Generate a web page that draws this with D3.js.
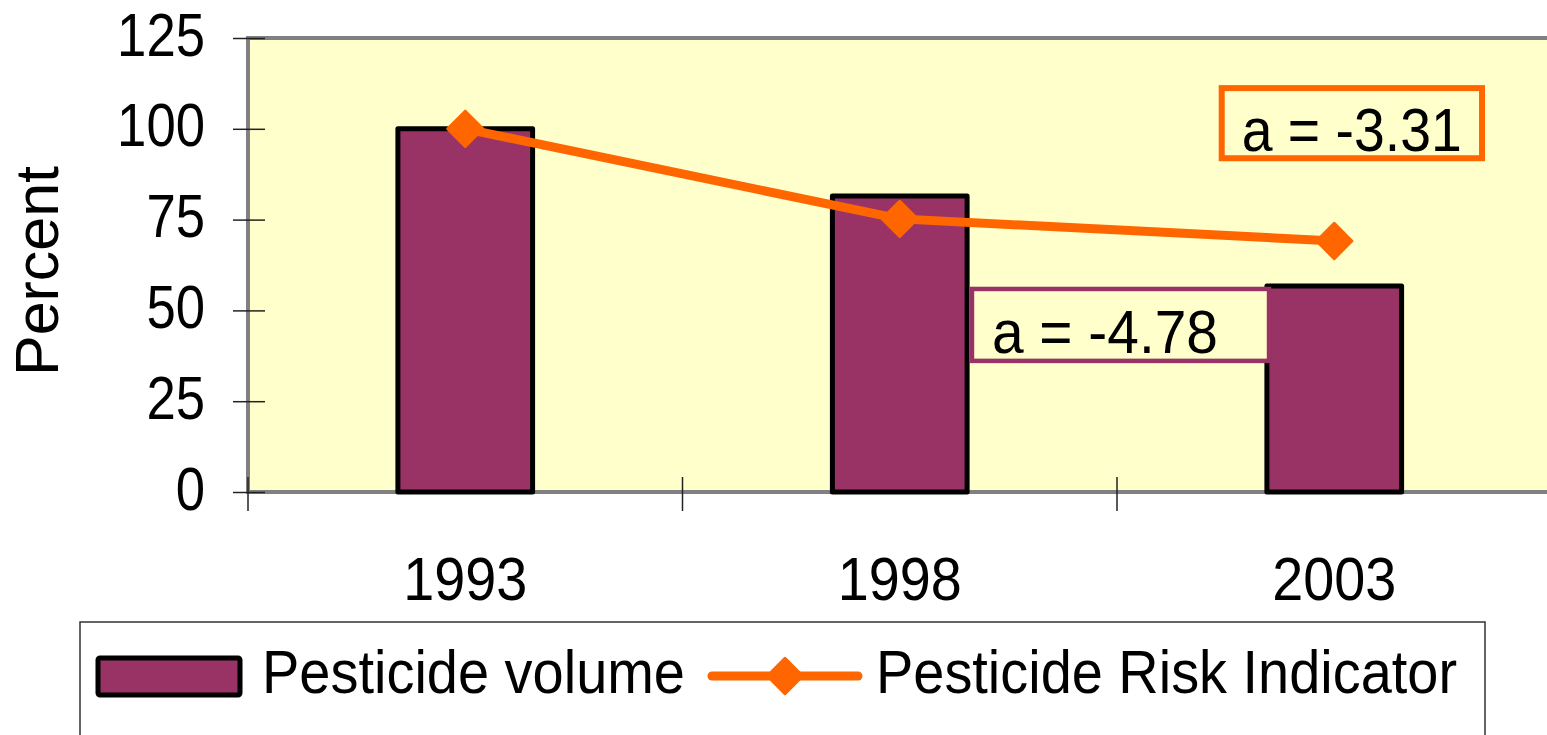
<!DOCTYPE html>
<html>
<head>
<meta charset="utf-8">
<script src="https://cdn.jsdelivr.net/npm/d3@7"></script>
<style>
  html, body { margin: 0; padding: 0; background: #ffffff; overflow: hidden; }
  svg { display: block; font-family: "Liberation Sans", Arial, sans-serif; }
</style>
</head>
<body>
<svg id="chart" width="1547" height="735"></svg>
<script>
// ---- data ----
const categories = ["1993", "1998", "2003"];
const pesticideVolume = [100, 81.5, 56.7];
const riskIndicator = [100, 75.2, 69.1];
const yTickValues = [0, 25, 50, 75, 100, 125];
const seriesNames = ["Pesticide volume", "Pesticide Risk Indicator"];
const annotationTexts = ["a = -3.31", "a = -4.78"];
const yAxisTitle = "Percent";

// ---- layout ----
const W = 1547, H = 735;
const plot = { left: 248, right: 1551.5, top: 38, bottom: 492 };
const BAR = "#993366", LINE = "#FF6600", BG = "#FFFFCC";
const FONT = 62;

const svg = d3.select("#chart");

const x = d3.scaleBand().domain(categories).range([plot.left, plot.right]).padding(0);
const y = d3.scaleLinear().domain([0, 125]).range([plot.bottom, plot.top]);
const bw = x.bandwidth();
const cx = c => x(c) + bw / 2;

// plot background
svg.append("rect")
  .attr("x", plot.left).attr("y", plot.top)
  .attr("width", plot.right - plot.left).attr("height", plot.bottom - plot.top)
  .attr("fill", BG).attr("stroke", "#808080").attr("stroke-width", 4);

// y axis ticks + labels
const yAxis = d3.axisLeft(y).tickValues(yTickValues).tickSize(15).tickSizeOuter(0);
const gy = svg.append("g").attr("transform", `translate(${plot.left},0)`).call(yAxis);
gy.select(".domain").remove();
gy.selectAll(".tick line").attr("x1", 17).attr("x2", -15).attr("stroke", "#222").attr("stroke-width", 1.5);
gy.selectAll(".tick text")
  .attr("x", -43).attr("dy", null).attr("y", 17)
  .attr("font-size", FONT).attr("fill", "#000")
  .attr("font-family", "'Liberation Sans', Arial, sans-serif")
  .attr("textLength", d => String(d).length * 29.3)
  .attr("lengthAdjust", "spacingAndGlyphs");

// y axis title
svg.append("text")
  .attr("transform", `translate(58,${(plot.top + plot.bottom) / 2 + 6}) rotate(-90)`)
  .attr("text-anchor", "middle").attr("font-size", FONT).attr("fill", "#000")
  .attr("textLength", 210).attr("lengthAdjust", "spacingAndGlyphs")
  .text(yAxisTitle);

// x axis ticks at band boundaries
const boundaries = categories.map(c => x(c)).concat([x.range()[1]]);
svg.append("g").selectAll("line").data(boundaries).join("line")
  .attr("x1", d => d).attr("x2", d => d)
  .attr("y1", plot.bottom - 15).attr("y2", plot.bottom + 19)
  .attr("stroke", "#222").attr("stroke-width", 1.5);

// x labels
svg.append("g").selectAll("text").data(categories).join("text")
  .attr("x", d => cx(d)).attr("y", 600)
  .attr("text-anchor", "middle").attr("font-size", FONT).attr("fill", "#000")
  .attr("textLength", d => d.length * 31)
  .attr("lengthAdjust", "spacingAndGlyphs")
  .text(d => d);

// bars
const barFrac = 0.31;
svg.append("g").selectAll("rect").data(categories).join("rect")
  .attr("x", d => cx(d) - bw * barFrac / 2)
  .attr("width", bw * barFrac)
  .attr("y", (d, i) => y(pesticideVolume[i]))
  .attr("height", (d, i) => y(0) - y(pesticideVolume[i]))
  .attr("fill", BAR).attr("stroke", "#000").attr("stroke-width", 5)
  .attr("stroke-linejoin", "round");

// risk line
const linePts = categories.map((c, i) => [cx(c), y(riskIndicator[i])]);
svg.append("path")
  .attr("d", d3.line()(linePts))
  .attr("fill", "none").attr("stroke", LINE).attr("stroke-width", 9)
  .attr("stroke-linejoin", "round");

const diamond = d3.symbol().type(d3.symbolSquare).size(620);
svg.append("g").selectAll("path").data(linePts).join("path")
  .attr("d", diamond)
  .attr("transform", d => `translate(${d[0]},${d[1]}) rotate(45)`)
  .attr("fill", LINE).attr("stroke", LINE).attr("stroke-width", 3).attr("stroke-linejoin", "round");

// annotations (positioned in data space)
const span = plot.right - plot.left;
const annLayout = [
  { f0: 0.747, f1: 0.9467, vTop: 111.2, vBot: 91.9, color: LINE, sw: 6, tx: 20, base: 151 },
  { f0: 0.5554, f1: 0.7833, vTop: 55.9, vBot: 36.1, color: BAR, sw: 4.5, tx: 20, base: 353 }
];
annLayout.forEach((a, i) => {
  const x0 = plot.left + a.f0 * span, x1 = plot.left + a.f1 * span;
  const g = svg.append("g");
  g.append("rect")
    .attr("x", x0).attr("y", y(a.vTop))
    .attr("width", x1 - x0).attr("height", y(a.vBot) - y(a.vTop))
    .attr("fill", BG).attr("stroke", a.color).attr("stroke-width", a.sw);
  g.append("text")
    .attr("x", x0 + a.tx).attr("y", a.base)
    .attr("font-size", FONT).attr("fill", "#000")
    .attr("textLength", i === 0 ? 220 : 226)
    .attr("lengthAdjust", "spacingAndGlyphs")
    .text(annotationTexts[i]);
});

// legend
const lg = svg.append("g");
lg.append("rect")
  .attr("x", 80).attr("y", 622).attr("width", 1405).attr("height", 200)
  .attr("fill", "#fff").attr("stroke", "#333").attr("stroke-width", 1.5);
lg.append("rect")
  .attr("x", 98).attr("y", 658).attr("width", 142).attr("height", 37)
  .attr("fill", BAR).attr("stroke", "#000").attr("stroke-width", 5).attr("rx", 2);
lg.append("text")
  .attr("x", 262).attr("y", 693).attr("font-size", FONT).attr("fill", "#000")
  .attr("textLength", 423).attr("lengthAdjust", "spacingAndGlyphs")
  .text(seriesNames[0]);
lg.append("line")
  .attr("x1", 712).attr("x2", 858).attr("y1", 676).attr("y2", 676)
  .attr("stroke", LINE).attr("stroke-width", 9).attr("stroke-linecap", "round");
lg.append("path")
  .attr("d", diamond)
  .attr("transform", "translate(785,676) rotate(45)")
  .attr("fill", LINE).attr("stroke", LINE).attr("stroke-width", 3).attr("stroke-linejoin", "round");
lg.append("text")
  .attr("x", 876).attr("y", 693).attr("font-size", FONT).attr("fill", "#000")
  .attr("textLength", 581).attr("lengthAdjust", "spacingAndGlyphs")
  .text(seriesNames[1]);
</script>
</body>
</html>
